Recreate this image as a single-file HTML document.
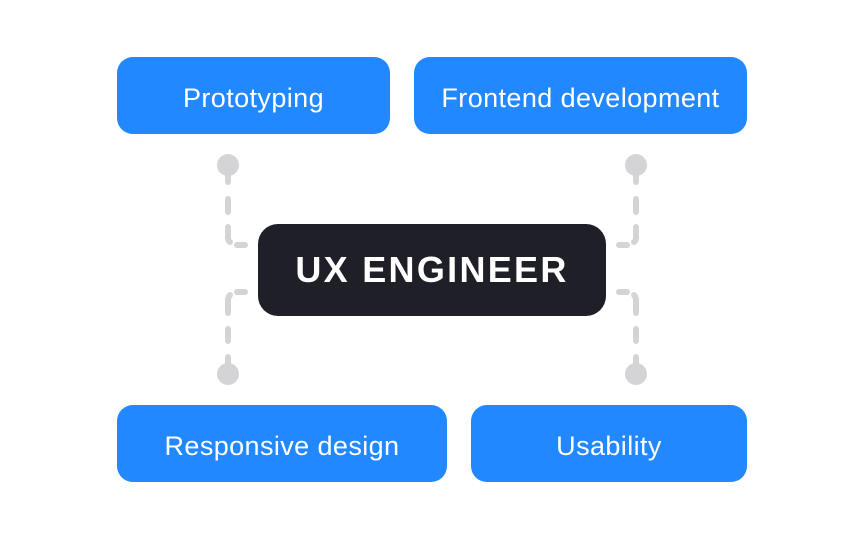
<!DOCTYPE html>
<html><head><style>
body{margin:0;width:864px;height:540px;background:#fff;overflow:hidden;position:relative;font-family:"Liberation Sans",sans-serif}
.b{position:absolute;background:#2288ff;color:#fff;border-radius:16px;display:flex;align-items:center;justify-content:center;font-size:27px;letter-spacing:0.4px;box-sizing:border-box;padding-top:5px}
.c{position:absolute;left:258px;top:224px;width:348px;height:92px;background:#1f2027;border-radius:20px;color:#fff;font-weight:bold;font-size:36px;letter-spacing:2.3px;display:flex;align-items:center;justify-content:center}
svg{position:absolute;left:0;top:0}
</style></head><body>
<svg width="864" height="540" stroke="#d4d4d6" stroke-width="6" stroke-linecap="round" fill="none">
<g fill="#d4d4d6" stroke="none">
<circle cx="228" cy="165" r="11"/><circle cx="228" cy="374" r="11"/>
<circle cx="636" cy="165" r="11"/><circle cx="636" cy="374" r="11"/>
</g>
<g>
<path d="M228 170V182M228 199V212M228 227V238Q228 241 230 242"/>
<path d="M237 245H245"/>
<path d="M237 292H245"/>
<path d="M228 369V357M228 341V329M228 313V300Q228 297 230 295"/>
</g>
<g transform="translate(864,0) scale(-1,1)">
<path d="M228 170V182M228 199V212M228 227V238Q228 241 230 242"/>
<path d="M237 245H245"/>
<path d="M237 292H245"/>
<path d="M228 369V357M228 341V329M228 313V300Q228 297 230 295"/>
</g>
</svg>
<div class="b" style="left:117px;top:57px;width:273px;height:77px">Prototyping</div>
<div class="b" style="left:414px;top:57px;width:333px;height:77px">Frontend development</div>
<div class="b" style="left:117px;top:405px;width:330px;height:77px">Responsive design</div>
<div class="b" style="left:471px;top:405px;width:276px;height:77px">Usability</div>
<div class="c">UX ENGINEER</div>
</body></html>
